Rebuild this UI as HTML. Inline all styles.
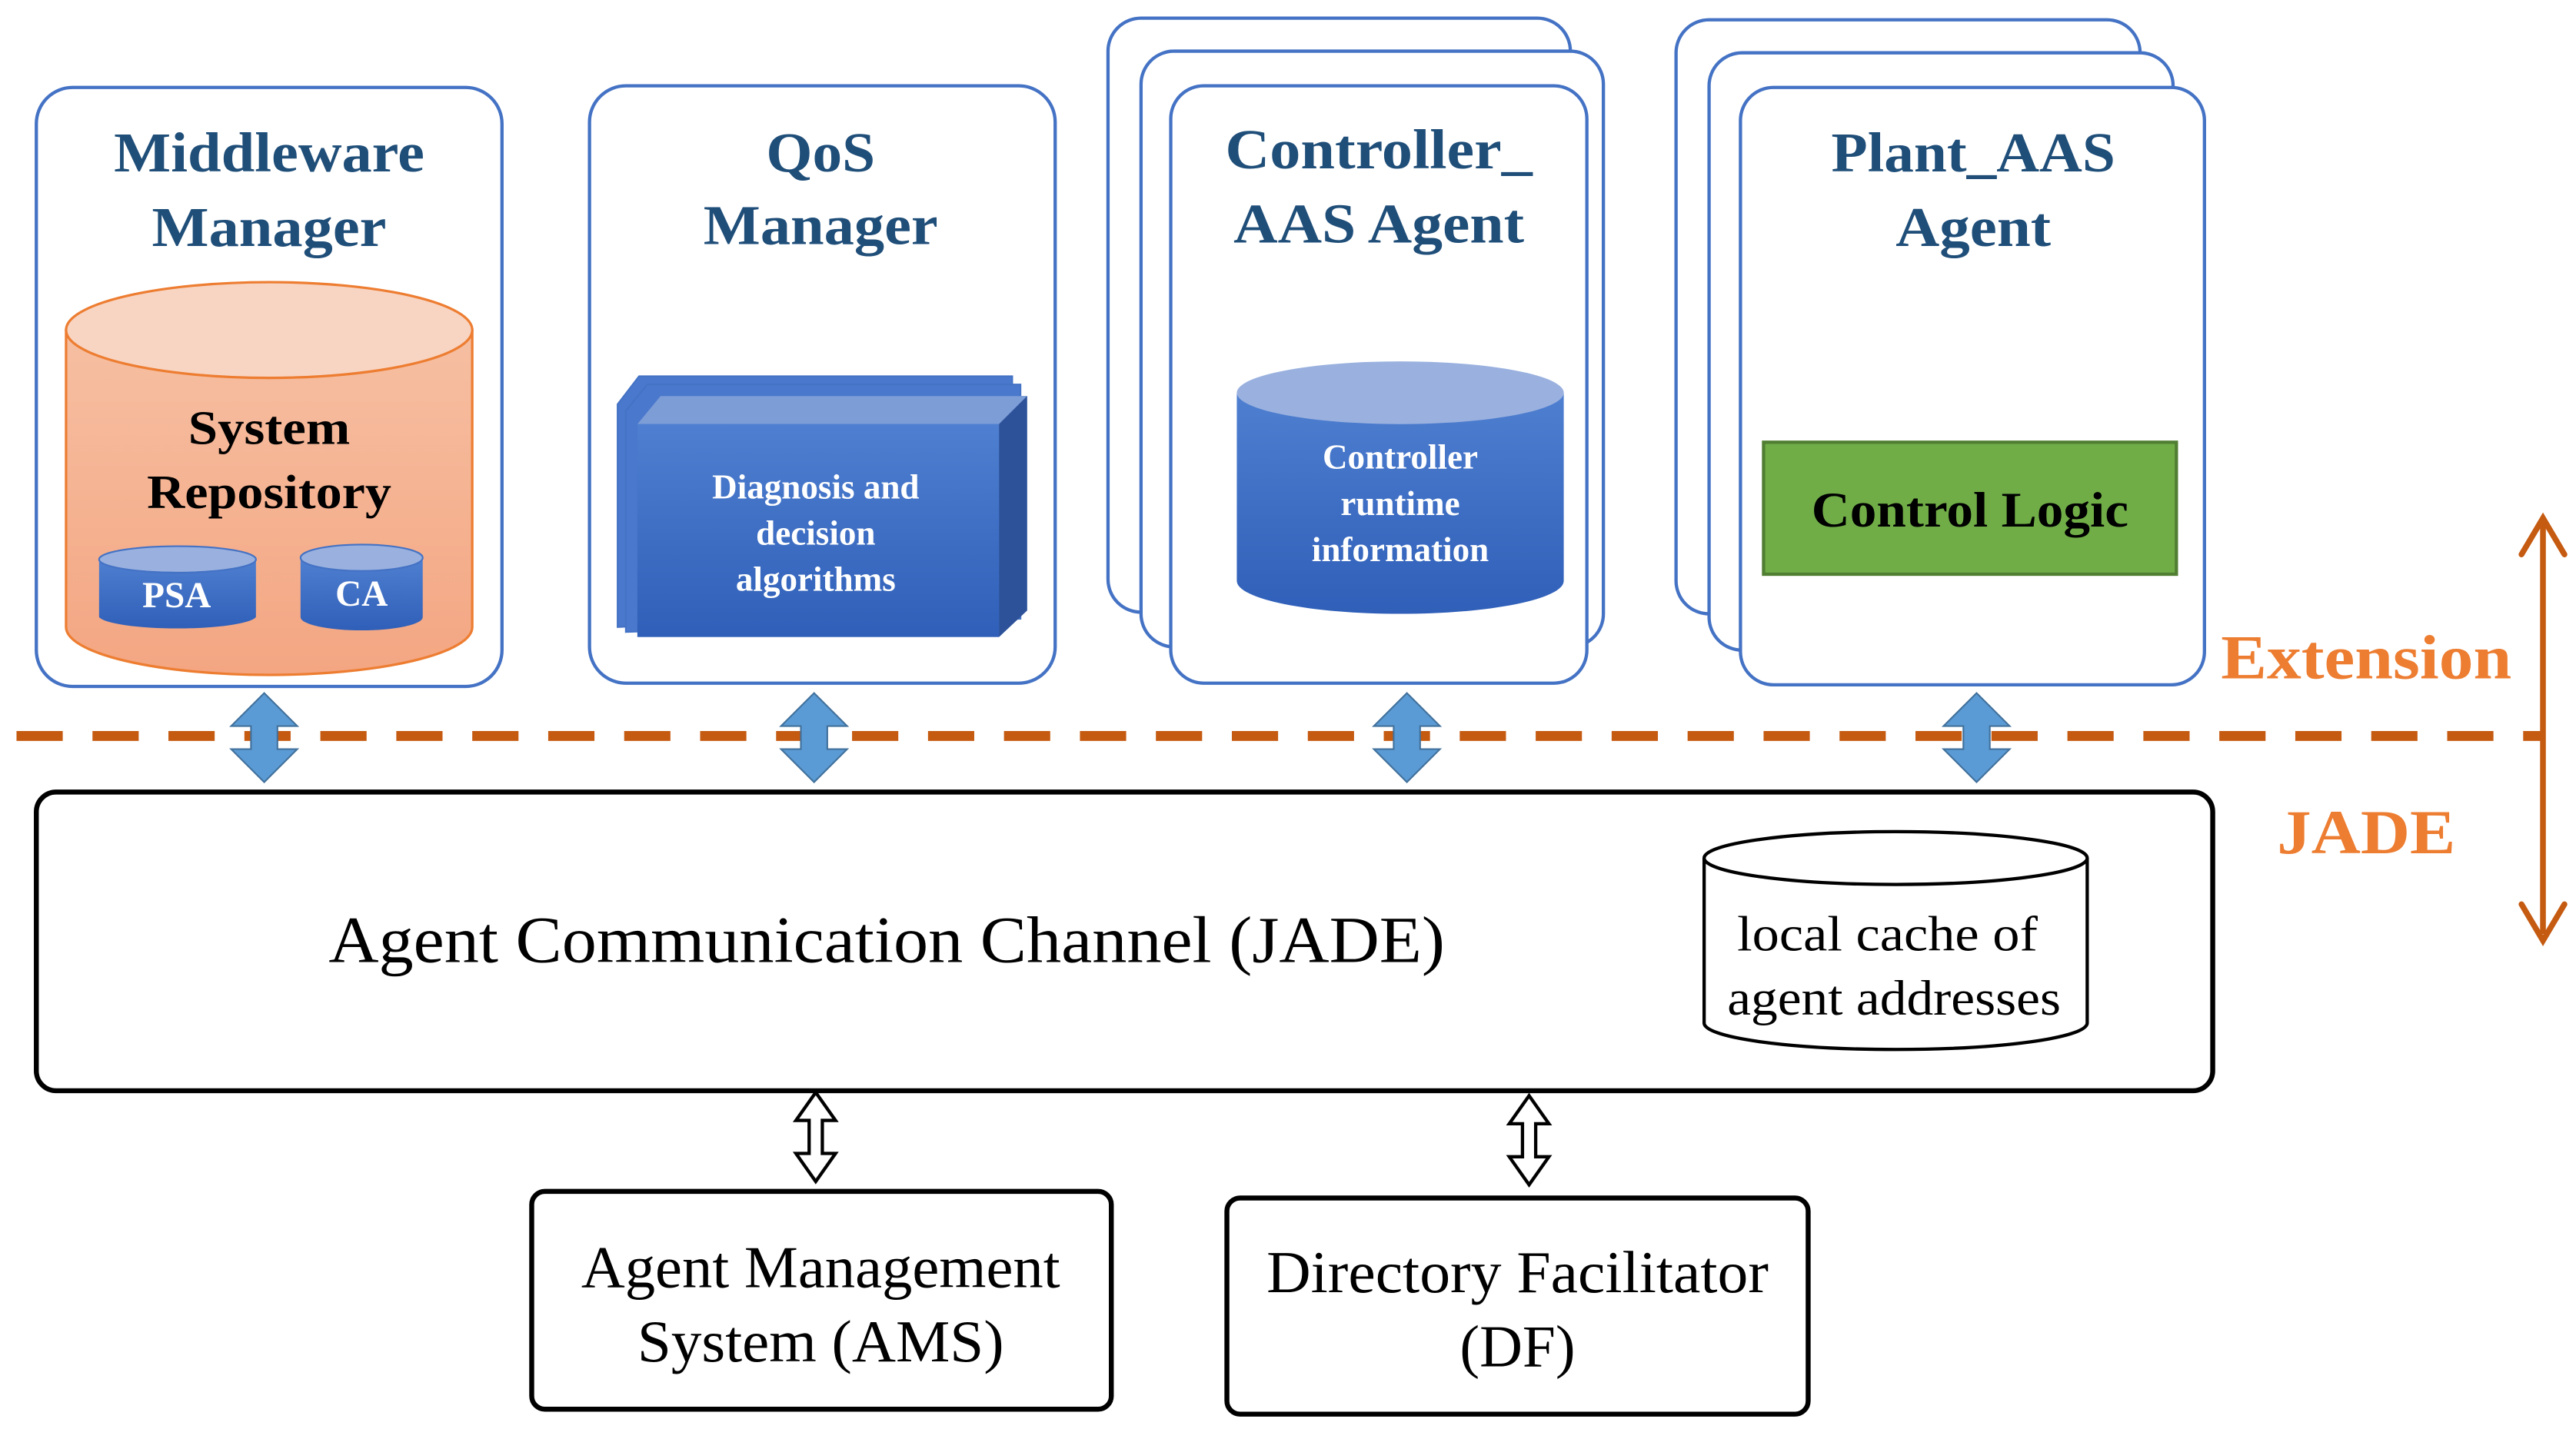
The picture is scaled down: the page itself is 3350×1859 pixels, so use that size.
<!DOCTYPE html>
<html><head><meta charset="utf-8"><style>
html,body{margin:0;padding:0;background:#fff;}
svg{display:block;}
text{font-family:"Liberation Serif",serif;}
</style></head><body>
<svg width="3350" height="1859" viewBox="0 0 1560 866" preserveAspectRatio="none" xmlns="http://www.w3.org/2000/svg">
<defs>
<linearGradient id="og" x1="0" y1="0" x2="0" y2="1"><stop offset="0" stop-color="#f6bfa2"/><stop offset="1" stop-color="#f4a682"/></linearGradient>
<linearGradient id="bg" x1="0" y1="0" x2="0" y2="1"><stop offset="0" stop-color="#4f7fd0"/><stop offset="1" stop-color="#2f5fb8"/></linearGradient>
</defs>
<g fill="#fff" stroke="#4472c4" stroke-width="2">
<rect x="22" y="53" width="282" height="363" rx="22"/>
<rect x="357" y="52" width="282" height="362" rx="22"/>
<rect x="671" y="11" width="280" height="360" rx="20"/>
<rect x="691" y="31" width="280" height="361" rx="20"/>
<rect x="709" y="52" width="252" height="362" rx="20"/>
<rect x="1015" y="12" width="281" height="360" rx="20"/>
<rect x="1035" y="32" width="281" height="362" rx="20"/>
<rect x="1054" y="53" width="281" height="362" rx="20"/>
</g>
<g fill="#1f4e79" font-weight="bold" font-size="34" text-anchor="middle">
<text x="163" y="104" textLength="188" lengthAdjust="spacingAndGlyphs">Middleware</text>
<text x="163" y="149" textLength="142" lengthAdjust="spacingAndGlyphs">Manager</text>
<text x="497" y="104" textLength="66" lengthAdjust="spacingAndGlyphs">QoS</text>
<text x="497" y="148" textLength="142" lengthAdjust="spacingAndGlyphs">Manager</text>
<text x="835" y="102" textLength="186" lengthAdjust="spacingAndGlyphs">Controller_</text>
<text x="835" y="147" textLength="176" lengthAdjust="spacingAndGlyphs">AAS Agent</text>
<text x="1195" y="104" textLength="172" lengthAdjust="spacingAndGlyphs">Plant_AAS</text>
<text x="1195" y="149" textLength="94" lengthAdjust="spacingAndGlyphs">Agent</text>
</g>
<!-- system repository -->
<path d="M40 200 V380 A123 29 0 0 0 286 380 V200 Z" fill="url(#og)" stroke="#ed7d31" stroke-width="1.5"/>
<ellipse cx="163" cy="200" rx="123" ry="29" fill="#f8d5c3" stroke="#ed7d31" stroke-width="1.5"/>
<g font-weight="bold" font-size="29" text-anchor="middle" fill="#000">
<text x="163" y="269" textLength="98" lengthAdjust="spacingAndGlyphs">System</text>
<text x="163" y="308" textLength="148" lengthAdjust="spacingAndGlyphs">Repository</text>
</g>
<path d="M60 339 V374 A48 8 0 0 0 155 374 V339 Z" fill="url(#bg)"/>
<ellipse cx="107.5" cy="339" rx="47.5" ry="8" fill="#9ab1df" stroke="#4472c4" stroke-width="1"/>
<path d="M182 339 V374 A37 8 0 0 0 256 374 V339 Z" fill="url(#bg)"/>
<ellipse cx="219" cy="338" rx="37" ry="8" fill="#9ab1df" stroke="#4472c4" stroke-width="1"/>
<g font-weight="bold" font-size="22" fill="#fff" text-anchor="middle">
<text x="107" y="368">PSA</text><text x="219" y="367">CA</text>
</g>
<!-- diagnosis stack -->
<g stroke="#4472c4" stroke-width="1">
<path d="M374 245 L387 228 L613 228 L613 370 L374 380 Z" fill="#4a78cc"/>
<path d="M379 249 L392 233 L618 233 L618 375 L379 383 Z" fill="#4a78cc"/>
</g>
<path d="M386 257 L400 240 L622 240 L622 370 L605 386 L386 386 Z" fill="#3e6cc4"/>
<path d="M386 257 L400 240 L622 240 L605 257 Z" fill="#7d9dd6"/>
<path d="M605 257 L622 240 L622 370 L605 386 Z" fill="#2d5299"/>
<rect x="386" y="257" width="219" height="129" fill="url(#bg)"/>
<g font-weight="bold" font-size="21" fill="#fff" text-anchor="middle">
<text x="494" y="302">Diagnosis and</text><text x="494" y="330">decision</text><text x="494" y="358">algorithms</text>
</g>
<!-- controller cylinder -->
<path d="M749 238 V352 A99 20 0 0 0 947 352 V238 Z" fill="url(#bg)"/>
<ellipse cx="848" cy="238" rx="99" ry="19" fill="#9ab1df"/>
<g font-weight="bold" font-size="21" fill="#fff" text-anchor="middle">
<text x="848" y="284">Controller</text><text x="848" y="312">runtime</text><text x="848" y="340">information</text>
</g>
<!-- control logic -->
<rect x="1068" y="268" width="250" height="80" fill="#70ad47" stroke="#507e32" stroke-width="2"/>
<text x="1193" y="319" font-weight="bold" font-size="30" text-anchor="middle" textLength="192" lengthAdjust="spacingAndGlyphs">Control Logic</text>
<!-- dashed line -->
<line x1="10" y1="446" x2="1540" y2="446" stroke="#c55a11" stroke-width="6" stroke-dasharray="28 18"/>
<!-- orange vertical arrow -->
<line x1="1540" y1="316" x2="1540" y2="566" stroke="#c55a11" stroke-width="3.5"/>
<path d="M1527 336 L1540 314 L1553 336 M1527 548 L1540 570 L1553 548" fill="none" stroke="#c55a11" stroke-width="3.5" stroke-linecap="round"/>
<g fill="#ed7d31" font-weight="bold" font-size="38" text-anchor="middle">
<text x="1433" y="411" textLength="176" lengthAdjust="spacingAndGlyphs">Extension</text>
<text x="1433" y="517" textLength="108" lengthAdjust="spacingAndGlyphs">JADE</text>
</g>
<!-- blue double arrows -->
<g fill="#5b9bd5" stroke="#41719c" stroke-width="1">
<path id="da" d="M0 -27 L20 -7 L8 -7 L8 7 L20 7 L0 27 L-20 7 L-8 7 L-8 -7 L-20 -7 Z" transform="translate(160 447)"/>
<path d="M0 -27 L20 -7 L8 -7 L8 7 L20 7 L0 27 L-20 7 L-8 7 L-8 -7 L-20 -7 Z" transform="translate(493 447)"/>
<path d="M0 -27 L20 -7 L8 -7 L8 7 L20 7 L0 27 L-20 7 L-8 7 L-8 -7 L-20 -7 Z" transform="translate(852 447)"/>
<path d="M0 -27 L20 -7 L8 -7 L8 7 L20 7 L0 27 L-20 7 L-8 7 L-8 -7 L-20 -7 Z" transform="translate(1197 447)"/>
</g>
<!-- ACC -->
<rect x="22" y="480" width="1318" height="181" rx="12" fill="none" stroke="#000" stroke-width="3"/>
<text x="537" y="583" font-size="40" text-anchor="middle" textLength="676" lengthAdjust="spacingAndGlyphs">Agent Communication Channel (JADE)</text>
<path d="M1032 520 V620 A116 16 0 0 0 1264 620 V520" fill="#fff" stroke="#000" stroke-width="2"/>
<ellipse cx="1148" cy="520" rx="116" ry="16" fill="#fff" stroke="#000" stroke-width="2"/>
<g font-size="30" text-anchor="middle">
<text x="1143" y="576" textLength="182" lengthAdjust="spacingAndGlyphs">local cache of</text>
<text x="1147" y="615" textLength="202" lengthAdjust="spacingAndGlyphs">agent addresses</text>
</g>
<!-- hollow double arrows -->
<g fill="#fff" stroke="#000" stroke-width="2">
<path d="M0 -27 L12 -10 L4 -10 L4 10 L12 10 L0 27 L-12 10 L-4 10 L-4 -10 L-12 -10 Z" transform="translate(494 689)"/>
<path d="M0 -27 L12 -10 L4 -10 L4 10 L12 10 L0 27 L-12 10 L-4 10 L-4 -10 L-12 -10 Z" transform="translate(926 691)"/>
</g>
<!-- AMS / DF -->
<rect x="322" y="722" width="351" height="132" rx="8" fill="#fff" stroke="#000" stroke-width="3"/>
<rect x="743" y="726" width="352" height="131" rx="8" fill="#fff" stroke="#000" stroke-width="3"/>
<g font-size="36" text-anchor="middle">
<text x="497" y="780" textLength="290" lengthAdjust="spacingAndGlyphs">Agent Management</text>
<text x="497" y="825" textLength="222" lengthAdjust="spacingAndGlyphs">System (AMS)</text>
<text x="919" y="783" textLength="304" lengthAdjust="spacingAndGlyphs">Directory Facilitator</text>
<text x="919" y="828" textLength="70" lengthAdjust="spacingAndGlyphs">(DF)</text>
</g>
</svg>
</body></html>
